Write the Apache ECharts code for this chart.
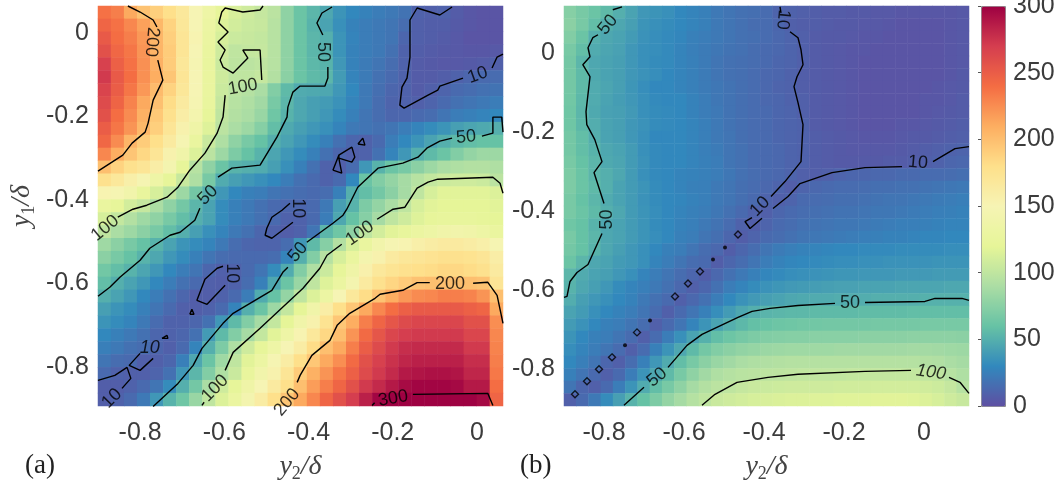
<!DOCTYPE html>
<html><head><meta charset="utf-8">
<style>html,body{margin:0;padding:0;background:#fff}#c{width:1055px;height:482px}</style>
<script src="https://cdn.jsdelivr.net/npm/echarts@6/dist/echarts.min.js"></script>
</head><body><div id="c"></div>
<script>
const spectral=['#5e4fa2','#3288bd','#66c2a5','#abdda4','#e6f598','#f6f4b4','#fee08b','#fdae61','#f46d43','#d53e4f','#9e0142'];
const tickValues=[-0.8,-0.6,-0.4,-0.2,0];
const colorbarRange=[0,300];
const heatA=[
[238,232,212,198,190,180,168,150,135,122,113,108,103,98,78,62,54,46,36,30,27,24,22,19,10,9,10,7,4,3,3],
[245,238,228,216,204,188,170,150,132,116,110,106,104,96,78,62,52,44,34,27,24,22,20,16,9,8,8,6,4,3,3],
[252,240,232,220,205,190,172,152,130,112,106,104,102,96,78,62,54,50,36,28,24,22,20,12,9,8,7,5,3,3,3],
[258,244,236,222,206,192,172,150,128,108,100,102,103,96,78,62,54,50,36,27,24,22,18,10,8,7,6,5,4,4,5],
[268,248,238,224,208,192,170,148,126,106,99,98,100,96,78,62,55,52,38,27,23,20,16,10,7,6,5,5,6,7,9],
[272,252,240,224,210,196,172,150,128,108,100,100,103,94,76,62,56,54,40,28,23,18,14,10,7,7,8,10,12,14,15],
[266,250,236,220,202,188,170,150,128,106,98,95,90,72,56,48,47,46,38,30,22,17,12,10,7,9,11,14,16,18,19],
[262,246,230,212,199,182,165,148,126,103,96,92,86,68,54,46,42,40,35,28,22,16,11,10,9,11,14,18,20,22,24],
[258,240,226,208,194,178,160,144,122,100,94,90,82,64,52,46,42,38,32,26,20,16,12,12,14,16,20,24,26,28,30],
[250,236,222,204,190,172,155,136,116,98,90,84,74,58,47,42,38,34,28,22,20,18,20,24,28,32,36,42,45,47,50],
[244,226,205,192,180,165,148,128,105,92,78,68,60,50,44,38,32,26,18,12,10,14,24,30,36,44,50,55,58,60,60],
[228,210,196,185,172,155,138,115,98,84,70,60,52,45,38,32,26,18,12,9,10,18,28,38,50,56,62,72,80,84,84],
[200,188,178,172,160,145,122,96,78,62,52,50,48,42,34,26,18,10,9,15,38,52,62,68,76,84,90,92,94,94,92],
[178,168,158,148,135,122,104,92,68,48,42,38,34,30,24,18,14,10,14,30,62,72,80,88,96,102,106,108,108,106,98],
[152,148,140,125,112,100,84,66,50,38,30,26,24,20,18,16,14,16,26,50,58,66,76,88,100,112,118,118,118,118,115],
[128,122,110,103,90,78,66,54,44,32,26,22,18,14,12,12,14,22,42,52,70,80,90,100,112,118,120,120,120,120,118],
[112,102,94,85,78,68,58,50,44,32,26,22,18,14,10,10,14,24,46,60,74,88,100,108,116,122,124,124,124,122,120],
[100,90,84,76,68,58,50,42,34,28,22,18,12,10,8,10,20,54,64,78,100,110,118,124,130,134,138,140,138,134,128],
[85,76,68,60,52,44,36,32,28,22,16,12,11,11,16,38,56,74,94,112,128,140,148,152,158,162,165,165,162,158,148],
[76,68,60,52,46,38,32,26,20,16,14,14,14,16,28,50,72,96,112,128,144,155,165,170,172,175,178,178,176,172,160],
[65,58,52,45,38,30,24,20,12,9,10,14,20,32,48,72,92,106,122,136,156,168,174,178,180,182,185,185,182,178,165],
[58,50,44,38,30,24,18,14,9,8,10,16,26,46,62,82,100,116,130,145,165,178,186,192,198,200,200,200,200,198,172],
[50,44,38,30,24,18,12,8,8,10,14,24,48,60,80,100,115,132,150,168,182,198,210,220,226,228,232,232,230,222,200],
[42,36,32,26,20,14,9,8,10,14,28,50,62,84,102,120,138,160,180,195,212,228,240,248,252,252,252,252,248,245,212],
[36,32,28,22,15,10,10,12,18,38,56,72,88,102,120,138,155,175,195,210,232,245,255,262,265,265,265,265,258,258,225],
[30,26,22,18,12,10,12,18,40,56,72,88,102,118,135,152,168,185,200,222,242,255,265,270,272,272,272,272,265,265,228],
[25,22,18,16,12,9,14,28,50,70,92,108,122,135,150,162,182,200,212,232,250,262,272,278,280,280,280,280,272,272,230],
[20,16,14,9,9,12,25,46,62,85,100,118,132,148,162,180,195,212,225,242,258,268,276,282,285,285,285,285,278,278,232],
[14,10,9,9,11,18,38,54,72,92,105,125,140,155,172,192,208,222,236,248,262,272,280,288,290,292,292,290,282,282,235],
[8,8,10,14,20,32,50,66,90,108,122,136,150,165,180,200,218,232,245,258,272,280,288,295,298,298,298,296,288,288,240],
[8,10,14,22,38,52,64,82,100,115,130,145,162,180,196,212,228,245,258,270,285,298,300,300,300,300,300,300,300,296,245]];
const heatB=[
[74,68,62,56,50,44,38,36,34,30,28,26,22,20,18,17,15,11,10,9,8,7,7,6,6,5,5,4,4,4,4,4,5],
[76,68,58,50,46,42,36,34,32,30,28,26,22,20,18,16,15,12,9,8,8,7,6,6,5,5,4,3,3,3,3,4,5],
[72,62,50,46,44,40,35,33,31,29,26,24,22,20,18,17,15,13,11,9,7,6,6,5,4,4,3,3,3,3,3,4,5],
[68,58,48,45,43,38,34,33,31,28,25,23,21,19,18,16,14,13,11,9,7,6,5,4,4,3,3,3,3,3,3,4,5],
[66,54,46,44,42,38,34,32,31,28,26,23,20,18,17,16,14,12,11,9,7,6,5,4,3,3,3,3,3,3,3,4,5],
[66,56,47,44,42,38,35,33,30,28,26,23,20,18,17,15,13,12,10,8,7,6,5,4,3,3,3,3,3,3,3,4,6],
[66,56,48,45,42,37,33,30,30,28,26,23,21,19,17,15,13,11,10,8,7,6,5,4,3,3,3,3,3,3,4,5,6],
[65,55,48,44,41,38,34,31,30,30,27,24,21,19,17,15,13,12,10,9,7,6,5,4,3,3,3,3,3,4,4,5,7],
[64,54,47,43,42,39,34,32,31,30,27,24,22,19,17,15,14,12,11,9,7,6,5,4,3,3,3,3,3,4,5,6,7],
[64,55,49,44,42,38,35,32,31,30,28,25,22,19,17,15,14,12,11,10,7,6,5,4,3,3,3,4,4,5,6,7,8],
[66,58,50,44,42,38,34,30,30,30,28,25,22,20,17,15,14,12,11,10,8,7,6,5,4,4,4,5,6,6,7,8,9],
[66,58,52,46,44,40,34,31,30,30,28,25,23,20,18,15,14,13,11,10,8,7,6,5,5,5,5,6,7,8,9,10,11],
[68,60,54,47,45,40,35,31,30,30,28,26,24,20,18,15,14,13,11,10,8,7,6,6,6,6,7,7,8,9,10,12,13],
[70,62,54,50,46,40,34,31,30,28,27,26,24,21,18,16,14,13,11,9,8,9,11,12,12,13,13,14,14,15,15,16,17],
[70,62,56,50,44,40,36,32,30,28,26,25,22,20,17,15,13,11,8,11,13,14,15,15,16,17,17,18,18,19,20,21,22],
[68,60,54,48,44,40,35,32,30,29,27,25,22,20,17,14,11,9,11,14,15,16,17,17,18,19,20,20,21,22,23,24,25],
[68,62,56,50,46,40,36,33,30,28,26,24,21,18,14,10,9,12,14,16,17,18,19,19,20,21,21,22,23,24,25,26,27],
[64,60,52,46,44,40,36,32,30,27,25,22,19,15,10,8,11,14,16,18,19,20,21,21,22,23,24,25,25,26,27,28,28],
[68,60,54,46,44,40,36,33,30,26,24,20,17,12,8,11,14,16,18,20,21,22,23,24,25,26,27,27,28,29,29,30,30],
[66,60,52,46,42,38,34,30,26,24,20,16,13,8,12,16,20,23,25,27,28,29,30,30,31,31,31,32,32,32,32,33,33],
[62,54,46,44,40,38,34,28,24,20,16,14,8,12,16,20,24,27,29,30,31,32,33,33,34,34,35,35,35,35,36,36,36],
[54,48,44,42,38,34,28,24,20,16,12,8,13,18,22,26,29,31,33,34,35,36,37,37,38,38,38,39,39,39,40,40,40],
[52,46,42,38,32,28,25,22,18,13,9,12,18,24,28,32,35,37,39,40,41,42,43,43,44,44,44,45,45,45,45,46,46],
[49,42,38,34,30,27,22,18,14,9,13,18,24,30,35,39,42,44,46,47,48,48,49,49,49,50,50,50,50,51,51,51,51],
[44,40,34,30,27,24,20,15,9,14,20,26,33,40,46,50,53,54,55,55,56,56,56,56,57,57,57,57,58,58,58,58,58],
[40,35,30,26,24,20,16,9,14,20,28,36,44,50,55,59,61,63,64,65,65,66,66,66,66,67,67,67,67,68,68,68,68],
[36,30,26,24,20,15,9,15,24,34,44,51,58,63,67,70,72,73,74,74,75,75,75,75,76,76,76,76,77,77,77,77,76],
[33,28,24,20,15,9,15,26,36,46,56,66,72,76,79,81,83,84,85,85,85,85,86,86,86,86,86,86,87,87,86,85,84],
[30,25,20,12,9,16,26,38,48,58,68,76,82,86,90,92,93,94,95,95,95,95,95,95,95,95,95,95,95,94,93,90,88],
[26,20,14,9,14,24,36,46,56,68,78,86,92,95,97,98,99,99,100,101,101,101,101,102,102,102,102,102,102,101,100,96,92],
[20,12,9,14,24,36,48,58,68,78,88,94,98,100,103,105,106,107,108,108,108,108,109,109,109,110,110,110,110,109,107,103,96],
[9,14,22,32,42,52,60,70,80,88,95,100,105,108,110,112,113,114,115,115,116,116,117,117,117,118,118,118,117,115,112,108,104]];

const linesA=[
[[-.829,.065],[-.8,.0506],[-.769,.0314],[-.76,.0146]],
[[-.758,-.0646],[-.746,-.1126],[-.769,-.1606],[-.781,-.2158],[-.788,-.2374],[-.819,-.2638],[-.841,-.2926],[-.9,-.331]],
[[-.508,.065],[-.515,.0554],[-.556,.0506],[-.598,.0602],[-.606,.0506],[-.613,.0242],[-.591,.0026],[-.615,-.0214],[-.598,-.0406],[-.61,-.0646],[-.603,-.0814],[-.579,-.0958],[-.544,-.0598],[-.556,-.0406],[-.515,-.0406],[-.511,-.1126]],
[[-.598,-.1486],[-.603,-.2014],[-.617,-.2398],[-.646,-.2878],[-.682,-.3286],[-.71,-.3694],[-.736,-.3934],[-.784,-.4126],[-.817,-.4222],[-.853,-.4414]],
[[-.344,.0626],[-.368,.0482],[-.38,.0242],[-.366,-.0046]],
[[-.354,-.0814],[-.354,-.1078],[-.361,-.127],[-.42,-.127],[-.437,-.1414],[-.449,-.1774],[-.451,-.2014],[-.475,-.2494],[-.515,-.3166],[-.582,-.3238],[-.615,-.3454]],
[[-.658,-.4198],[-.67,-.4486],[-.705,-.4774],[-.729,-.4846],[-.777,-.5158],[-.8,-.5446],[-.848,-.5854],[-.872,-.6094],[-.9,-.631]],
[[.062,-.2374],[.059,-.2014],[.038,-.2014],[.038,-.2398],[.012,-.247]],
[[-.059,-.2518],[-.088,-.259],[-.119,-.2758],[-.14,-.2974],[-.176,-.3118],[-.235,-.3238],[-.283,-.3694],[-.309,-.4222],[-.318,-.4366],[-.342,-.4558],[-.404,-.5014]],
[[-.449,-.5614],[-.461,-.5734],[-.487,-.6166],[-.579,-.6718],[-.603,-.6958],[-.653,-.7558],[-.674,-.7966],[-.71,-.8398],[-.769,-.895]],
[[.062,-.3838],[.055,-.3598],[.038,-.3454],[-.093,-.3502],[-.116,-.3574],[-.142,-.3718],[-.171,-.4174],[-.199,-.4222],[-.237,-.4462]],
[[-.321,-.5062],[-.356,-.5326],[-.373,-.5638],[-.413,-.6118],[-.515,-.7078],[-.579,-.7654],[-.598,-.8086]],
[[-.653,-.8926],[-.648,-.885]],
[[.062,-.6958],[.048,-.6286],[.026,-.5974],[-.009,-.5998]],
[[-.112,-.5982],[-.142,-.5982],[-.176,-.6166],[-.23,-.6262],[-.242,-.6358],[-.302,-.6718],[-.332,-.7006],[-.349,-.7366],[-.392,-.7726],[-.42,-.8206],[-.427,-.8374]],
[[.038,-.8926],[.026,-.8638],[-.152,-.8662]],
[[-.249,-.8926],[-.243,-.886]],
[[-.059,.0626],[-.088,.0434],[-.142,.0602],[-.159,.0314],[-.159,-.0574],[-.166,-.1078],[-.178,-.1294],[-.183,-.1726],[-.173,-.1798],[-.116,-.1486],[-.093,-.1366],[-.088,-.127],[-.033,-.1078]],
[[.036,-.0838],[.048,-.0574],[.062,-.0502]],
[[-.342,-.3286],[-.321,-.3358],[-.328,-.2998],[-.297,-.3094],[-.29,-.2974],[-.297,-.2734],[-.328,-.2926],[-.342,-.3286]],
[[-.328,-.2998],[-.328,-.2926]],
[[-.2825,-.266],[-.266,-.2686],[-.271,-.2518],[-.2825,-.266]],
[[-.444,-.4078],[-.463,-.4246],[-.487,-.4414],[-.499,-.4678],[-.503,-.4846],[-.487,-.4918],[-.437,-.4534]],
[[-.603,-.559],[-.617,-.5638],[-.646,-.59],[-.665,-.6406],[-.641,-.6502],[-.598,-.6046]],
[[-.682,-.674],[-.672,-.674],[-.677,-.662],[-.682,-.674]],
[[-.748,-.7318],[-.734,-.7318],[-.736,-.7246],[-.748,-.7318]],
[[-.9,-.8326],[-.86,-.8206],[-.831,-.8014],[-.822,-.8278],[-.843,-.8518]],
[[-.8,-.7678],[-.826,-.7966],[-.8,-.8086],[-.769,-.7798]]];
const labelsA=[
[-.772,-.0214,'200',-95],[-.556,-.1294,'100',10],[-.366,-.0454,'50',-90],[.002,-.1006,'10',20],
[-.639,-.3886,'50',45],[-.883,-.4678,'100',40],[-.026,-.2494,'50',5],[-.425,-.42,'10',-90],
[-.582,-.5758,'10',-90],[-.425,-.5254,'50',50],[-.278,-.4798,'100',35],[-.622,-.8518,'100',45],
[-.777,-.756,'10',0,'italic'],[-.867,-.876,'10',45],[-.451,-.8854,'200',50],[-.064,-.602,'200',0],[-.199,-.876,'300',10]];

const linesB=[
[[-.755,.116],[-.778,.1085]],
[[-.815,.0454],[-.828,.0379],[-.84,.0126],[-.835,-.0101],[-.853,-.0302],[-.835,-.0605],[-.845,-.1488],[-.843,-.1816],[-.823,-.2194],[-.805,-.2749],[-.825,-.3026],[-.8,-.3808]],
[[-.805,-.4565],[-.84,-.5346],[-.8675,-.5548],[-.885,-.5775],[-.8925,-.6153],[-.9,-.6178]],
[[-.36,.116],[-.3575,.1009]],
[[-.335,.053],[-.315,.0379],[-.3075,.0076],[-.3025,-.0302],[-.3175,-.0605],[-.325,-.0857],[-.315,-.1261],[-.3025,-.1816],[-.3075,-.2749],[-.3475,-.3253],[-.3825,-.3631]],
[[.1125,-.237],[.0775,-.2421],[.0225,-.2749]],
[[-.055,-.2875],[-.1475,-.29],[-.23,-.3026],[-.31,-.3303],[-.34,-.3631],[-.3775,-.3934]],
[[-.43,-.4161],[-.4475,-.4262],[-.435,-.4438],[-.405,-.418]],
[[-.75,-.89],[-.7,-.8448]],
[[-.64,-.7944],[-.5925,-.7389],[-.555,-.7112],[-.465,-.6683],[-.43,-.6532],[-.385,-.6456],[-.315,-.6381],[-.2225,-.633]],
[[-.1475,-.6305],[.0025,-.628],[.0275,-.6204],[.0525,-.6204],[.095,-.6204],[.1125,-.6254]],
[[-.555,-.89],[-.5225,-.8625],[-.4675,-.8322],[-.39,-.8196],[-.315,-.812],[-.1475,-.8045],[-.0325,-.802]],
[[.0625,-.8196],[.09,-.8322],[.1125,-.86]]];
const labelsB=[
[-.79,.0706,'50',50],[-.3525,.0833,'10',-95],[-.7925,-.421,'50',90],[-.015,-.2775,'10',-5],
[-.41,-.3884,'10',45],[-.6675,-.8196,'50',40],[-.185,-.633,'50',0],[.0175,-.807,'100',-8,'italic']];
const ringsB=[[-.465,-.4589],[-.56,-.5523],[-.59,-.5825],[-.6225,-.6153],[-.7175,-.7061],[-.78,-.7692],[-.8125,-.7994],[-.8425,-.8297],[-.8725,-.8625]];
const dotsB=[[-.4975,-.4917],[-.5275,-.522],[-.685,-.6759],[-.7475,-.7389]];

const axisA={x:[-.9,.062],y:[-.894,.065]};
const axisB={x:[-.9,.1125],y:[-.892,.118]};
const sans='Liberation Sans',serif='Liberation Serif',ink='#3c3c3c';
const rich={i:{fontFamily:serif,fontStyle:'italic',fontSize:28,color:'#444',lineHeight:32},
  s:{fontFamily:serif,fontSize:18,color:'#444',lineHeight:32,verticalAlign:'bottom'}};
const cells=m=>m.flatMap((r,j)=>r.map((v,i)=>[i,j,v]));
const idx=n=>Array.from({length:n},(_,i)=>String(i));
const boxA={left:98,top:6,width:405,height:400},boxB={left:564,top:6,width:405,height:400};
const fmt=v=>Math.abs(v)<1e-9?'0':v.toFixed(1);
const hidden=(gi,n,inv)=>({type:'category',gridIndex:gi,data:idx(n),show:false,inverse:!!inv});
const valAxis=(gi,r,margin,extra,pad)=>Object.assign({type:'value',gridIndex:gi,min:r[0],max:r[1],
  axisLine:{show:false},axisTick:{show:false},splitLine:{show:false},
  axisLabel:{customValues:tickValues,formatter:fmt,fontFamily:sans,fontSize:25,color:ink,margin,padding:pad||0}},extra||{});
const xName={name:'{i|y}{s|2}{i|/δ}',nameLocation:'middle',nameGap:45,nameTextStyle:{rich}};
const yName={name:'{i|y}{s|1}{i|/δ}',nameLocation:'middle',nameGap:60,nameTextStyle:{rich}};
function contour(lines,g){return lines.map(p=>({type:'line',xAxisIndex:g,yAxisIndex:g,data:p,symbol:'none',silent:true,clip:false,
  lineStyle:{color:'#000',width:1.4},z:3,animation:false}));}
function tags(list,g){return {type:'scatter',xAxisIndex:g,yAxisIndex:g,symbolSize:1,silent:true,z:4,itemStyle:{color:'rgba(0,0,0,0)'},
  data:list.map(l=>({value:[l[0],l[1]],label:{show:true,position:'inside',formatter:l[2],rotate:l[3],fontStyle:l[4]||'normal',
    fontFamily:sans,fontSize:18,color:'#000'}}))};}
const chart=echarts.init(document.getElementById('c'),null,{renderer:'canvas'});
chart.setOption({
 animation:false,backgroundColor:'#fff',
 grid:[boxA,boxA,boxB,boxB,{left:981,top:6,width:24,height:400}].map(g=>Object.assign({containLabel:false,outerBoundsMode:'none'},g)),
 xAxis:[hidden(0,31),valAxis(1,axisA.x,15,xName),hidden(2,33),valAxis(3,axisB.x,15,xName),{type:'value',gridIndex:4,show:false,min:0,max:1}],
 yAxis:[hidden(0,31,true),valAxis(1,axisA.y,9,yName,[7,0,0,0]),hidden(2,32,true),valAxis(3,axisB.y,9,null,[7,0,0,0]),
  {type:'value',gridIndex:4,position:'right',min:colorbarRange[0],max:colorbarRange[1],interval:50,splitLine:{show:false},
   axisLine:{show:false},axisTick:{show:true,inside:true,length:3,lineStyle:{color:'#555'}},
   axisLabel:{fontFamily:sans,fontSize:25,color:ink,margin:8,padding:[7,0,0,0]}}],
 visualMap:{type:'continuous',seriesIndex:[0,1],dimension:2,min:colorbarRange[0],max:colorbarRange[1],left:981,top:6,itemWidth:24,itemHeight:400,
  padding:0,borderWidth:1,borderColor:'#8a8a8a',text:null,calculable:false,hoverLink:false,realtime:false,inRange:{color:spectral},textStyle:{fontSize:0}},
 graphic:[
  {type:'text',left:25,top:452,style:{text:'(a)',fontFamily:serif,fontSize:27,fill:'#222'}},
  {type:'text',left:520,top:452,style:{text:'(b)',fontFamily:serif,fontSize:27,fill:'#222'}}],
 series:[
  {type:'heatmap',xAxisIndex:0,yAxisIndex:0,data:cells(heatA),progressive:0,silent:true,z:1},
  {type:'heatmap',xAxisIndex:2,yAxisIndex:2,data:cells(heatB),progressive:0,silent:true,z:1},
  ...contour(linesA,1),tags(labelsA,1),
  ...contour(linesB,3),tags(labelsB,3),
  {type:'scatter',xAxisIndex:3,yAxisIndex:3,data:ringsB,symbol:'diamond',symbolSize:7,silent:true,z:3,
    itemStyle:{color:'rgba(0,0,0,0)',borderColor:'#000',borderWidth:1.4}},
  {type:'scatter',xAxisIndex:3,yAxisIndex:3,data:dotsB,symbol:'circle',symbolSize:4,silent:true,z:3,itemStyle:{color:'#000'}}
 ]
});
</script></body></html>
